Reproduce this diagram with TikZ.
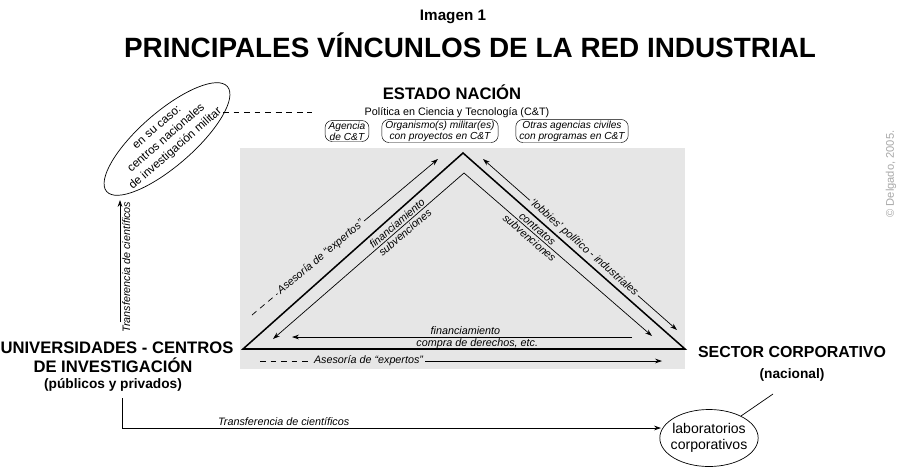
\documentclass[tikz,border=0pt]{standalone}
\usepackage{fontspec}
\setmainfont{Liberation Sans}
\usetikzlibrary{arrows.meta,calc,positioning,shapes.geometric}
\definecolor{fondo}{HTML}{E6E6E6}
\definecolor{gristexto}{HTML}{A8A8A8}

\begin{document}
\begin{tikzpicture}[x=0.03cm,y=-0.03cm,
  titulo/.style={font=\fontsize{23.8}{26}\selectfont\bfseries, anchor=base},
  subtitulo/.style={font=\fontsize{13}{15}\selectfont\bfseries, anchor=base},
  grande/.style={font=\fontsize{14.2}{16}\selectfont\bfseries, anchor=base},
  grande2/.style={font=\fontsize{13.6}{16}\selectfont\bfseries, anchor=base},
  medio/.style={font=\fontsize{11.7}{13}\selectfont\bfseries, anchor=base},
  chico/.style={font=\fontsize{9.2}{10.8}\selectfont},
  lbl/.style={font=\fontsize{9.2}{10}\selectfont\itshape, inner sep=1.5pt},
  caja/.style={draw, rounded corners=6pt, align=center, inner xsep=3pt, inner ysep=1pt,
    font=\fontsize{8.7}{9.5}\selectfont\itshape},
  flecha/.style={line width=0.6pt, -{Stealth[length=6pt,width=4pt]}},
  flechas/.style={line width=0.6pt, {Stealth[length=6pt,width=4pt]}-{Stealth[length=6pt,width=4pt]}},
  guiones/.style={line width=0.6pt, dash pattern=on 5pt off 4pt},
  gruesa/.style={line width=1.3pt, line join=miter}
]
  \fill[white] (0,0) rectangle (902,474);
  \useasboundingbox (0,0) rectangle (902,474);

  % titulos
  \node[subtitulo] (imagen) at (453,20) {Imagen 1};
  \node[titulo] (titulo) at (470,57) {PRINCIPALES VÍNCUNLOS DE LA RED INDUSTRIAL};

  % fondo del triangulo
  \fill[fondo] (240,148) rectangle (685,369);

  % estado nacion
  \node[grande] (estado) at (452,99) {ESTADO NACIÓN};
  \node[chico, anchor=base] (politica) at (457,115) {Política en Ciencia y Tecnología (C\&T)};
  \node[caja] (agencia) at (347,131) {Agencia\\de C\&T};
  \node[caja] (militar) at (440,131) {Organismo(s) militar(es)\\con proyectos en C\&T};
  \node[caja] (civiles) at (572,131) {Otras agencias civiles\\con programas en C\&T};

  % triangulo
  \coordinate (izq) at (243,349);
  \coordinate (cima) at (463,153);
  \coordinate (der) at (685,349);
  \draw[gruesa] (izq) -- (cima) -- (der) -- cycle;

  % flechas interiores
  \coordinate (cima2) at (464,173);
  \coordinate (fin-izq) at (273,339);
  \coordinate (fin-der) at (652,336);
  \draw[flechas] (fin-izq)
    -- node[lbl,sloped,above,pos=.67] (fin1) {financiamiento}
       node[lbl,sloped,below,pos=.67] (sub1) {subvenciones} (cima2)
    -- node[lbl,sloped,above,pos=.37] (contratos) {contratos}
       node[lbl,sloped,below,pos=.37] (sub2) {subvenciones} (fin-der);
  \coordinate (h-a) at (632,337);
  \coordinate (h-b) at (292,337);
  \draw[flecha] (h-a)
    -- node[lbl,above,pos=.49] (fin2) {financiamiento}
       node[lbl,below,pos=.455] (compra) {compra de derechos, etc.} (h-b);

  % flechas exteriores
  \coordinate (ase-a) at (252,315);
  \coordinate (ase-b) at (438,159);
  \path (ase-a) -- node[lbl,sloped,pos=.37] (ase-t) {Asesoría de ``expertos''} (ase-b);
  \draw[guiones] (ase-a) -- (ase-t);
  \draw[flecha] (ase-t) -- (ase-b);

  \coordinate (lob-a) at (483,159);
  \coordinate (lob-b) at (677,330);
  \path (lob-a) -- node[lbl,sloped,pos=.52] (lob-t) {`lobbies' político - industriales} (lob-b);
  \draw[flecha] (lob-t) -- (lob-a);
  \draw[flecha] (lob-t) -- (lob-b);

  \coordinate (bas-a) at (260,361);
  \coordinate (bas-b) at (662,361);
  \path (bas-a) -- node[lbl,pos=.27] (bas-t) {Asesoría de ``expertos''} (bas-b);
  \draw[guiones] (bas-a) -- (bas-t);
  \draw[flecha] (bas-t) -- (bas-b);

  % universidades
  \node[grande] (univ1) at (117,353) {UNIVERSIDADES - CENTROS};
  \node[grande] (univ2) at (113,372) {DE INVESTIGACIÓN};
  \node[medio] (univ3) at (113,388) {(públicos y privados)};

  % sector corporativo
  \node[grande2] (sector) at (792,357) {SECTOR CORPORATIVO};
  \node[medio] (nacional) at (792,378) {(nacional)};

  % centros militares
  \node[font=\fontsize{10}{12}\selectfont, align=center, rotate=41] (centros) at (167,139)
    {en su caso:\\centros nacionales\\de investigación militar};
  \draw[line width=0.6pt, rotate around={41:(centros.center)}]
    (centros.center) ellipse [x radius=80, y radius=27];
  \coordinate (mil-a) at (223,112);
  \coordinate (mil-b) at (312,112);
  \draw[guiones] (mil-a) -- (mil-b);

  \coordinate (tr-a) at (120,322);
  \coordinate (tr-b) at (120,200);
  \draw[flecha] (tr-a) -- node[lbl,sloped,below,pos=.45] (tr-t) {Transferencia de científicos} (tr-b);

  % laboratorios
  \node[draw, line width=0.6pt, ellipse, minimum width=2.94cm, minimum height=1.71cm,
    inner xsep=-3pt, inner ysep=0pt, align=center,
    font=\fontsize{12}{14}\selectfont] (labs) at (709,438) {laboratorios\\corporativos};
  \coordinate (tr2-a) at (122,398);
  \coordinate (tr2-c) at (122,428);
  \coordinate (tr2-b) at (661,428);
  \draw[flecha] (tr2-a) -- (tr2-c)
    -- node[lbl,above,pos=.3] (tr2-t) {Transferencia de científicos} (tr2-b);
  \coordinate (sec-c) at (773,394);
  \draw[line width=0.6pt] (sec-c) -- (labs);

  % derechos
  \node[font=\fontsize{9.5}{11}\selectfont, text=gristexto, rotate=90] (copy) at (891,174)
    {© Delgado, 2005.};
\end{tikzpicture}
\end{document}
